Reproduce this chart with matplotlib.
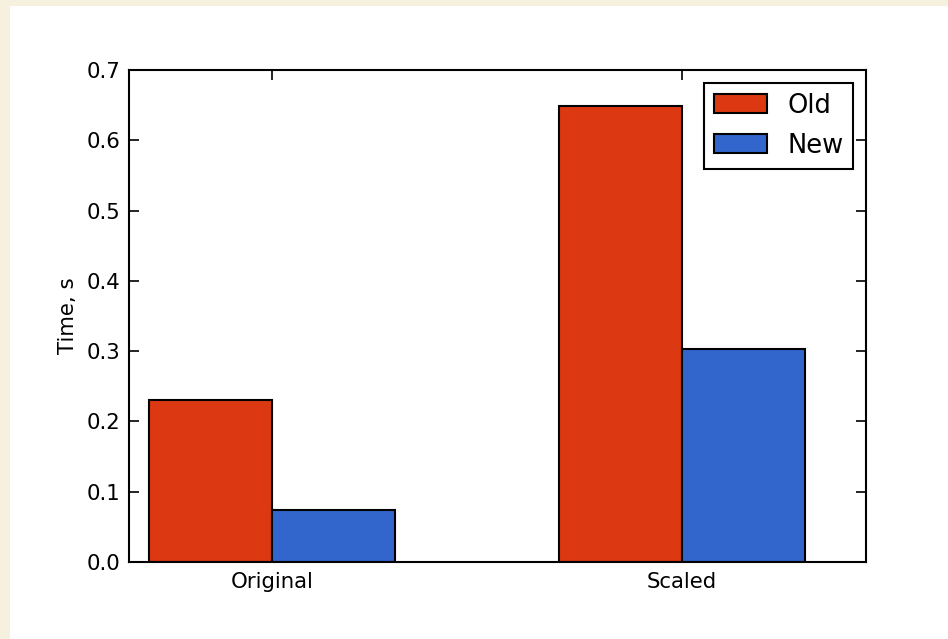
import numpy as np
import matplotlib
matplotlib.use("Agg")
import matplotlib.pyplot as plt
from matplotlib.patches import Rectangle

# data
categories = ["Original", "Scaled"]
old_times = [0.230, 0.649]
new_times = [0.074, 0.303]
series_names = ["Old", "New"]
yticks = [0.0, 0.1, 0.2, 0.3, 0.4, 0.5, 0.6, 0.7]

red = "#dc3912"
blue = "#3366cc"

plt.rcParams["font.family"] = "DejaVu Sans"

fig = plt.figure(figsize=(9.48, 6.39), dpi=100)
fig.patch.set_facecolor("#f6f1df")
# white page area, offset like the screenshot
fig.patches.append(Rectangle((10 / 948, 0), 1, 1 - 6 / 639, transform=fig.transFigure,
                             facecolor="white", edgecolor="none", zorder=-5))

ax = fig.add_axes([129 / 948, 77 / 639, 737 / 948, 492 / 639])
ax.set_zorder(2)
ind = np.arange(len(categories))
width = 0.3
ax.bar(ind - width / 2, old_times, width, color=red, edgecolor="black", linewidth=1.5,
       label=series_names[0])
ax.bar(ind + width / 2, new_times, width, color=blue, edgecolor="black", linewidth=1.5,
       label=series_names[1])

ax.set_xlim(-0.349, 1.449)
ax.set_ylim(0, 0.7)
ax.set_xticks(ind)
ax.set_xticklabels(categories)
ax.set_yticks(yticks)
ax.set_yticklabels(["%.1f" % v for v in yticks])
ax.set_ylabel("Time, s", fontsize=15.3, labelpad=6)

for s in ax.spines.values():
    s.set_linewidth(1.5)
ax.tick_params(direction="in", length=7, width=1.2, top=True, right=True,
               labelsize=15.3, pad=6)
ax.tick_params(axis="x", pad=7.5)

leg = ax.legend(loc="upper right", fontsize=18.5, fancybox=False, framealpha=1,
                borderaxespad=0.5, handlelength=2.05, handleheight=0.75,
                handletextpad=0.8, borderpad=0.38, labelspacing=0.55)
leg.get_frame().set_edgecolor("black")
leg.get_frame().set_linewidth(1.5)

fig.savefig("out.png", dpi=100, facecolor=fig.get_facecolor())
